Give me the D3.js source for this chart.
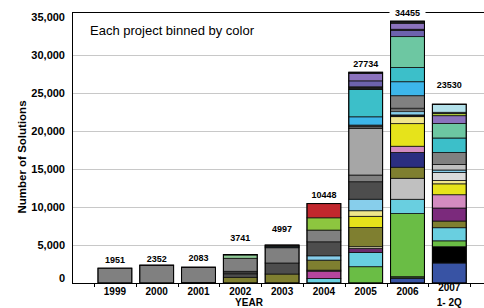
<!DOCTYPE html>
<head>
<meta charset="utf-8">
<title>Number of Solutions by Year</title>
<style>
body { margin: 0; background: #fff; }
text { font-family: Arial, "Liberation Sans", sans-serif; fill: #000; }
.grid line { stroke: #c8c8c8; stroke-width: 1px; }
.seg { stroke: #111; stroke-width: 0.8px; }
.frame { stroke: #000; stroke-width: 1px; fill: none; }
</style>
</head>
<body>
<script src="https://cdn.jsdelivr.net/npm/d3@7"></script>
<script>

// Categories and totals
var years = ["1999", "2000", "2001", "2002", "2003", "2004", "2005", "2006", "2007"];
var yearLabels = [["1999"], ["2000"], ["2001"], ["2002"], ["2003"], ["2004"], ["2005"], ["2006"], ["2007", "1- 2Q"]];
var totals = [1951, 2352, 2083, 3741, 4997, 10448, 27734, 34455, 23530];
var yTicks = [0, 5000, 10000, 15000, 20000, 25000, 30000, 35000];

// One slice per project, bottom to top
var p1999 = [1951];
var k1999 = ["gray"];
var p2000 = [2300, 52];
var k2000 = ["gray", "rose"];
var p2001 = [80, 1953, 50];
var k2001 = ["ink", "gray", "rose"];
var p2002 = [750, 460, 330, 1710, 440, 51];
var k2002 = ["olive", "dkgray", "charcoal", "gray", "mint", "rose"];
var p2003 = [1180, 1450, 2010, 120, 120, 117];
var k2003 = ["olive", "dkgray", "gray", "steel", "jade", "rose"];
var p2004 = [600, 960, 130, 1320, 570, 1840, 1540, 1620, 1868];
var k2004 = ["cyan", "orchid", "gray", "olive", "sky", "dkgray", "gray", "lime", "red"];
var p2005 = [2145, 1870, 550, 210, 2525, 1475, 735, 1515, 2300, 880, 6145, 210, 220, 1090, 3605, 340, 785, 975, 159];
var k2005 = ["green", "cyan", "plum", "cream", "olive", "yellow", "butter", "sky", "dkgray", "gray", "ltgray", "gray", "dkgray", "blue", "teal", "ink", "indigo", "violet", "ink"];
var p2006 = [620, 210, 8315, 1870, 2765, 1450, 1950, 815, 2975, 920, 225, 435, 225, 225, 1645, 1840, 1880, 4055, 840, 130, 790, 275];
var k2006 = ["royal", "dkgreen", "green", "cyan", "silver", "olive", "navy", "pink", "yellow", "butter", "ink", "sky", "white", "silver", "gray", "blue", "teal", "seafoam", "indigo", "ink", "violet", "ink"];
var p2007 = [2630, 2145, 775, 1725, 880, 1710, 1750, 1435, 435, 1050, 330, 725, 1580, 1910, 1910, 1025, 290, 160, 1025, 40];
var k2007 = ["royal", "black", "green", "cyan", "olive", "grape", "pink", "yellow", "butter", "mist", "sky", "silver", "gray", "teal", "seafoam", "violet", "chartreuse", "gray", "ice", "orange"];

var values = [p1999, p2000, p2001, p2002, p2003, p2004, p2005, p2006, p2007];
var keys = [k1999, k2000, k2001, k2002, k2003, k2004, k2005, k2006, k2007];

// project colours
var palette = {
  gray: "#808080", dkgray: "#4d4d4d", charcoal: "#3a3a3a", olive: "#7f7f30",
  rose: "#cc3f78", mint: "#8fca96", steel: "#3566a8", jade: "#3aa893",
  red: "#c1272d", lime: "#8dc63f", sky: "#87ceeb", orchid: "#b4469e",
  cyan: "#69cfe0", green: "#6abd45", plum: "#6b2a6b", cream: "#f3efc4",
  yellow: "#e6e31b", butter: "#f0e68c", ltgray: "#a6a6a6", blue: "#3db6ea",
  teal: "#3cbfc9", violet: "#8b72bd", indigo: "#6d62ae", ink: "#1e1e1e",
  seafoam: "#6dc7a2", navy: "#2b2e80", silver: "#c0c0c0", pink: "#d38bc0",
  royal: "#3853a4", black: "#000000", orange: "#e86a1a", ice: "#b3e1ea",
  mist: "#dadada", grape: "#7b2a7c", chartreuse: "#aac53b", dkgreen: "#2f4d24",
  white: "#f4f4f4"
};

var width = 484,
    height = 308;
var plotLeft = 72, plotTop = 12, plotBottom = 283;

var svg = d3.select("body")
    .append("svg")
    .attr("width", width)
    .attr("height", height);

var x = d3.scaleBand()
    .domain(years)
    .range([94, 470.2])
    .paddingInner(0.19)
    .paddingOuter(0.095);

var y = d3.scaleLinear()
    .domain([0, 35660])
    .range([plotBottom, plotTop]);

// gridlines
svg.append("g")
    .attr("class", "grid")
    .selectAll("line")
    .data(yTicks.filter(function(t) { return t > 0 && t < 35000; }))
    .enter().append("line")
    .attr("x1", plotLeft)
    .attr("x2", width)
    .attr("y1", function(d) { return Math.round(y(d)) + 0.5; })
    .attr("y2", function(d) { return Math.round(y(d)) + 0.5; });

// stack each year's slices
var stacks = years.map(function(yr, i) {
  var acc = 0;
  return values[i].map(function(v, j) {
    var s = {year: yr, y0: acc, y1: acc + v, key: keys[i][j]};
    acc += v;
    return s;
  });
});

var bars = svg.append("g")
    .selectAll("g")
    .data(stacks)
    .enter().append("g");

bars.selectAll("rect")
    .data(function(d) { return d; })
    .enter().append("rect")
    .attr("class", "seg")
    .attr("x", function(d) { return x(d.year); })
    .attr("width", x.bandwidth())
    .attr("y", function(d) { return y(d.y1); })
    .attr("height", function(d) { return y(d.y0) - y(d.y1); })
    .style("fill", function(d) { return palette[d.key]; });

// outline round each bar
bars.append("rect")
    .attr("class", "frame")
    .attr("x", function(d) { return x(d[0].year); })
    .attr("width", x.bandwidth())
    .attr("y", function(d) { return y(d[d.length - 1].y1); })
    .attr("height", function(d) { return plotBottom - y(d[d.length - 1].y1); });

// frame: top, left, bottom
svg.append("line").attr("class", "frame")
    .attr("x1", plotLeft).attr("x2", width).attr("y1", plotTop + 0.5).attr("y2", plotTop + 0.5);
svg.append("line").attr("class", "frame")
    .attr("x1", plotLeft + 0.5).attr("x2", plotLeft + 0.5).attr("y1", plotTop).attr("y2", plotBottom);
svg.append("line").attr("class", "frame")
    .attr("x1", plotLeft).attr("x2", width).attr("y1", plotBottom + 0.5).attr("y2", plotBottom + 0.5);

// x ticks at the band edges
var edges = years.map(function(d) { return x(d) - x.step() * x.paddingInner() / 2; });
edges.push(x(years[years.length - 1]) + x.bandwidth() + x.step() * x.paddingInner() / 2);
svg.append("g")
    .selectAll("line")
    .data(edges)
    .enter().append("line")
    .attr("x1", function(d) { return Math.round(d) + 0.5; })
    .attr("x2", function(d) { return Math.round(d) + 0.5; })
    .attr("y1", plotBottom)
    .attr("y2", plotBottom + 4)
    .style("stroke", "#000");

// y tick labels
svg.append("g")
    .selectAll("text")
    .data(yTicks)
    .enter().append("text")
    .attr("x", 65)
    .attr("y", function(d) { return d === 0 ? y(d) - 5 : y(d); })
    .attr("dy", "0.35em")
    .attr("text-anchor", "end")
    .style("font-size", "11px")
    .style("font-weight", "bold")
    .text(d3.format(","));

// year labels
var xl = svg.append("g")
    .selectAll("text")
    .data(years)
    .enter().append("text")
    .attr("text-anchor", "middle")
    .attr("x", function(d) { return x(d) + x.bandwidth() / 2; })
    .attr("y", function(d, i) { return yearLabels[i].length > 1 ? 291 : 295; })
    .style("font-size", "10px")
    .style("font-weight", "bold");
xl.selectAll("tspan")
    .data(function(d, i) { return yearLabels[i]; })
    .enter().append("tspan")
    .attr("x", function() { return this.parentNode.getAttribute("x"); })
    .attr("dy", function(d, i) { return i === 0 ? 0 : 14.5; })
    .text(function(d) { return d; });

svg.append("text")
    .attr("x", 249)
    .attr("y", 306)
    .attr("text-anchor", "middle")
    .style("font-size", "10px")
    .style("font-weight", "bold")
    .text("YEAR");

svg.append("text")
    .attr("transform", "translate(26,157) rotate(-90)")
    .attr("text-anchor", "middle")
    .style("font-size", "11.5px")
    .style("font-weight", "bold")
    .text("Number of Solutions");

// totals above bars (hand placed in the original, so lift varies)
var lift = [5, 3.6, 5.7, 14, 13, 5.5, 5, 0, 16];
var totalLabels = svg.append("g")
    .selectAll("g")
    .data(totals)
    .enter().append("g");

totalLabels.each(function(d, i) {
  var g = d3.select(this);
  var cx = x(years[i]) + x.bandwidth() / 2;
  var by = lift[i] === 0 ? plotTop + 3.5 : y(d) - lift[i];
  if (lift[i] === 0) {
    // label sits on the top frame line
    g.append("rect")
        .attr("x", cx - 18)
        .attr("y", plotTop - 5)
        .attr("width", 36)
        .attr("height", 10)
        .style("fill", "#fff");
  }
  g.append("text")
      .attr("x", cx)
      .attr("y", by)
      .attr("text-anchor", "middle")
      .style("font-size", "9px")
      .style("font-weight", "bold")
      .text(d);
});

svg.append("text")
    .attr("x", 90)
    .attr("y", 35)
    .style("font-size", "13px")
    .text("Each project binned by color");

</script>
</body>
</html>
